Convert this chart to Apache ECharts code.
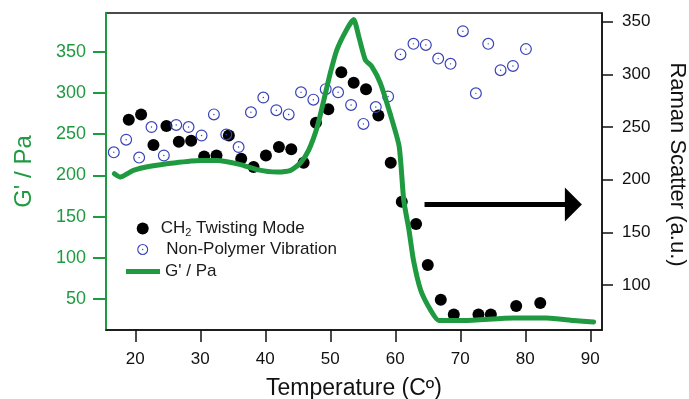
<!DOCTYPE html>
<html>
<head>
<meta charset="utf-8">
<script src="https://cdn.jsdelivr.net/npm/echarts@6/dist/echarts.min.js"></script>
<style>
  html, body { margin: 0; padding: 0; background: #fff; }
  #chart { width: 689px; height: 399px; }
</style>
</head>
<body>
<div id="chart"></div>
<script>
// axis ticks
const tempTicks = [20, 30, 40, 50, 60, 70, 80, 90]
const gTicks = [50, 100, 150, 200, 250, 300, 350]
const ramanTicks = [100, 150, 200, 250, 300, 350]

// CH2 twisting mode (Raman, right axis)
const ch2Temp = [19.0, 20.9, 22.8, 24.8, 26.7, 28.6, 30.6, 32.5, 34.4, 36.3, 38.2, 40.1, 42.1, 44.0, 45.9, 47.8,
  49.7, 51.7, 53.6, 55.5, 57.4, 59.3, 61.0, 63.2, 65.0, 67.0, 69.0, 72.8, 74.7, 78.6, 82.3]
const ch2Raman = [257, 262, 233, 251, 236, 237, 222, 223, 242, 220, 212, 223, 231, 229, 216, 254,
  267, 302, 292, 286, 261, 216, 179, 158, 119, 86, 72, 72, 72, 80, 83]

// non-polymer vibration (Raman, right axis)
const npTemp = [16.7, 18.6, 20.6, 22.5, 24.4, 26.3, 28.2, 30.2, 32.1, 34.0, 35.9, 37.8, 39.7, 41.7, 43.6, 45.5,
  47.4, 49.3, 51.2, 53.2, 55.1, 57.0, 58.9, 60.8, 62.8, 64.7, 66.6, 68.5, 70.4, 72.4, 74.3, 76.2, 78.1, 80.1]
const npRaman = [226, 238, 221, 250, 223, 252, 250, 242, 262, 243, 231, 264, 278, 266, 262, 283,
  276, 286, 283, 271, 253, 269, 279, 319, 329, 328, 315, 310, 341, 282, 329, 304, 308, 324]

// storage modulus G' (left axis)
const gTemp = [16.8, 17.7, 19.7, 22.3, 25.9, 30.0, 32.6, 36.2, 38.7, 41.8, 43.9, 45.4, 46.7, 48.0, 49.0, 50.0,
  51.0, 52.6, 53.6, 54.4, 55.4, 56.4, 57.7, 59.2, 60.6, 61.3, 62.1, 62.8, 63.9, 65.4, 66.7, 70.5, 78.2, 83.3, 87.4, 90.5]
const gValue = [202, 198, 206, 211, 215, 218, 218, 213, 207, 204, 206, 215, 231, 259, 291, 324,
  352, 378, 389, 368, 340, 332, 312, 275, 235, 170, 134, 97, 61, 37, 24, 24, 27, 27, 24, 22]

const green = '#1f9a40'
const blue = '#3a44b8'
const ring = 'path://M0,-10A10,10 0 1,1 0,10A10,10 0 1,1 0,-10ZM0,-8A8,8 0 1,0 0,8A8,8 0 1,0 0,-8ZM0,-1.2A1.2,1.2 0 1,1 0,1.2A1.2,1.2 0 1,1 0,-1.2Z'
const font = 'Liberation Sans'

const chart = echarts.init(document.getElementById('chart'), null, { renderer: 'canvas' })

const legendText = { fontFamily: font, fontSize: 17, color: '#1a1a1a' }

chart.setOption({
  animation: false,
  textStyle: { fontFamily: font },
  grid: {
    left: 106, right: 87, top: 13, bottom: 69,
    outerBoundsMode: 'none', containLabel: false,
    show: true, borderColor: '#111', borderWidth: 1.5, backgroundColor: 'transparent'
  },
  legend: [
    {
      data: [{ name: 'CH2 Twisting Mode', icon: 'circle' }], left: 136.7, top: 220, padding: 0,
      itemWidth: 26, itemHeight: 12, selectedMode: false,
      formatter: () => '{n|CH}{s|2}{n| Twisting Mode}',
      textStyle: Object.assign({}, legendText, {
        rich: {
          n: { fontFamily: font, fontSize: 17, color: '#1a1a1a', lineHeight: 20 },
          s: { fontFamily: font, fontSize: 11, color: '#1a1a1a', lineHeight: 12, verticalAlign: 'bottom' }
        }
      })
    },
    {
      data: [{ name: 'Non-Polymer Vibration', icon: ring }], left: 137.2, top: 241, padding: 0,
      itemWidth: 37, itemHeight: 11, selectedMode: false, textStyle: legendText
    },
    {
      data: [{ name: "G' / Pa", icon: 'rect' }], left: 126, top: 263, padding: 0,
      itemWidth: 34, itemHeight: 5, selectedMode: false, textStyle: legendText
    }
  ],
  xAxis: {
    type: 'value', min: 15.5, max: 91.8,
    name: 'Temperature (Cº)', nameLocation: 'middle', nameGap: 47,
    nameTextStyle: { fontFamily: font, fontSize: 23, color: '#111' },
    axisLine: { show: true, lineStyle: { color: '#111', width: 1.5 } },
    axisTick: { show: true, length: 12, customValues: tempTicks, lineStyle: { color: '#111', width: 1.5 } },
    axisLabel: { customValues: tempTicks, margin: 21, fontSize: 17, color: '#111', fontFamily: font },
    splitLine: { show: false }
  },
  yAxis: [
    {
      type: 'value', min: 12.4, max: 397, position: 'left',
      name: "G' / Pa", nameLocation: 'middle', nameGap: 70,
      nameTextStyle: { fontFamily: font, fontSize: 24, color: green },
      axisLine: { show: true, lineStyle: { color: green, width: 2 } },
      axisTick: { show: true, length: 13, customValues: gTicks, lineStyle: { color: green, width: 2 } },
      axisLabel: { customValues: gTicks, margin: 20, fontSize: 18, color: green, fontFamily: font },
      splitLine: { show: false }
    },
    {
      type: 'value', min: 57.3, max: 358.3, position: 'right',
      name: 'Raman Scatter (a.u.)', nameLocation: 'middle', nameGap: 64, nameRotate: -90,
      nameTextStyle: { fontFamily: font, fontSize: 22, color: '#111', padding: [0, 14, 0, 0] },
      axisLine: { show: true, lineStyle: { color: '#111', width: 1.5 } },
      axisTick: { show: true, length: 11, customValues: ramanTicks, lineStyle: { color: '#111', width: 1.5 } },
      axisLabel: { customValues: ramanTicks, margin: 20, fontSize: 17, color: '#111', fontFamily: font },
      splitLine: { show: false }
    }
  ],
  series: [
    {
      name: 'CH2 Twisting Mode', type: 'scatter', yAxisIndex: 1,
      data: ch2Temp.map((t, i) => [t, ch2Raman[i]]),
      symbol: 'circle', symbolSize: 12,
      itemStyle: { color: '#000', opacity: 1 },
      markLine: {
        silent: true, animation: false,
        label: { show: false },
        lineStyle: { color: '#000', width: 5, type: 'solid', opacity: 1 },
        emphasis: { disabled: true },
        data: [[
          { coord: [64.5, 176.5], symbol: 'none' },
          { coord: [87.4, 176.5], symbol: 'triangle', symbolSize: [34, 17] }
        ]]
      }
    },
    {
      name: "G' / Pa", type: 'line', yAxisIndex: 0,
      data: gTemp.map((t, i) => [t, gValue[i]]),
      symbol: 'none', smooth: 0.2,
      lineStyle: { color: green, width: 5, join: 'round', cap: 'round' },
      itemStyle: { color: green }
    },
    {
      name: 'Non-Polymer Vibration', type: 'scatter', yAxisIndex: 1,
      data: npTemp.map((t, i) => [t, npRaman[i]]),
      symbol: ring, symbolSize: 12, symbolKeepAspect: true,
      itemStyle: { color: blue, opacity: 1 }
    }
  ]
})
</script>
</body>
</html>
